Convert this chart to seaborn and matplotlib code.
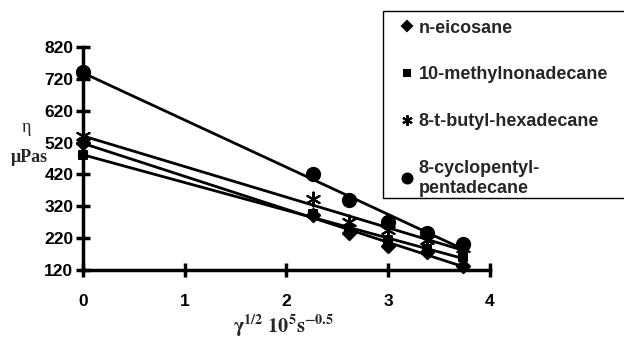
import numpy as np
import pandas as pd
import matplotlib
matplotlib.use("Agg")
import matplotlib.pyplot as plt
import seaborn as sns
from matplotlib.lines import Line2D

# ------------------------
# Data
# ------------------------
shear = [0.0, 2.26, 2.62, 3.0, 3.38, 3.74]
eicosane = [518, 293, 236, 195, 177, 132]
methylnonadecane = [481, 295, 245, 215, 186, 160]
butylhexadecane = [540, 343, 271, 245, 215, 189]
cyclopentylpentadecane = [740, 421, 340, 271, 237, 202]

names = ["n-eicosane", "10-methylnonadecane", "8-t-butyl-hexadecane",
         "8-cyclopentyl-\npentadecane"]
series = [eicosane, methylnonadecane, butylhexadecane, cyclopentylpentadecane]
markers = ["D", "s", (6, 2, 0), "o"]
msizes = [45, 35, 100, 90]

sns.set_style("white")
plt.rcParams['font.family'] = ['Liberation Sans', 'DejaVu Sans']

fig = plt.figure(figsize=(6.24, 3.43), dpi=100)
ax = fig.add_axes([0.133, 0.213, 0.652, 0.650])

for name, vals, mk, ms in zip(names, series, markers, msizes):
    df = pd.DataFrame({"x": shear, "y": vals})
    sns.regplot(data=df, x="x", y="y", ax=ax, ci=None, truncate=True,
                marker=mk, color="black",
                scatter_kws={"s": ms, "clip_on": False, "zorder": 3,
                             "linewidths": 1.5, "alpha": 1},
                line_kws={"lw": 2, "color": "black", "clip_on": False})

ax.set_xlim(0, 4)
ax.set_ylim(120, 820)
ax.set_xticks([0, 1, 2, 3, 4])
ax.set_yticks(np.arange(120, 821, 100))
ax.set_xlabel("")
ax.set_ylabel("")
for s in ["top", "right"]:
    ax.spines[s].set_visible(False)
for s in ["left", "bottom"]:
    ax.spines[s].set_linewidth(2.5)
    ax.spines[s].set_color("black")
ax.tick_params(bottom=True, left=True, direction="inout", length=10,
               width=2.5, colors="black", labelsize=12.5)
ax.tick_params(axis="x", pad=12)
ax.tick_params(axis="y", pad=2)
for lab in ax.get_xticklabels() + ax.get_yticklabels():
    lab.set_fontweight("bold")

fig.text(0.043, 0.627, "η", family="Liberation Serif", fontsize=13,
         ha="center", va="center")
fig.text(0.047, 0.542, "μPas", family="Liberation Serif", fontsize=13,
         fontweight="bold", ha="center", va="center")
fig.text(0.455, 0.05, r"$\mathbf{\gamma^{1/2}\ 10^{5}s^{-0.5}}$",
         fontsize=14.5, ha="center", va="center", math_fontfamily="stix")

# legend box drawn separately so the padding matches the original
box = plt.Rectangle((383 / 624, 1 - 198 / 343), (626 - 383) / 624,
                    (198 - 11) / 343, transform=fig.transFigure,
                    fill=False, edgecolor="black", lw=1)
fig.add_artist(box)

handles = [Line2D([], [], color="black", marker=mk, linestyle="none",
                  markersize=np.sqrt(ms) * 0.75, markeredgewidth=1.5)
           for mk, ms in zip(markers, msizes)]
leg = fig.legend(handles, names, loc="upper left",
                 bbox_to_anchor=(0.643, 0.943), frameon=False,
                 prop={"weight": "bold", "size": 13},
                 handlelength=0.65, handletextpad=0.3, labelspacing=1.65,
                 borderpad=0, borderaxespad=0)

fig.savefig("out.png", dpi=100)
